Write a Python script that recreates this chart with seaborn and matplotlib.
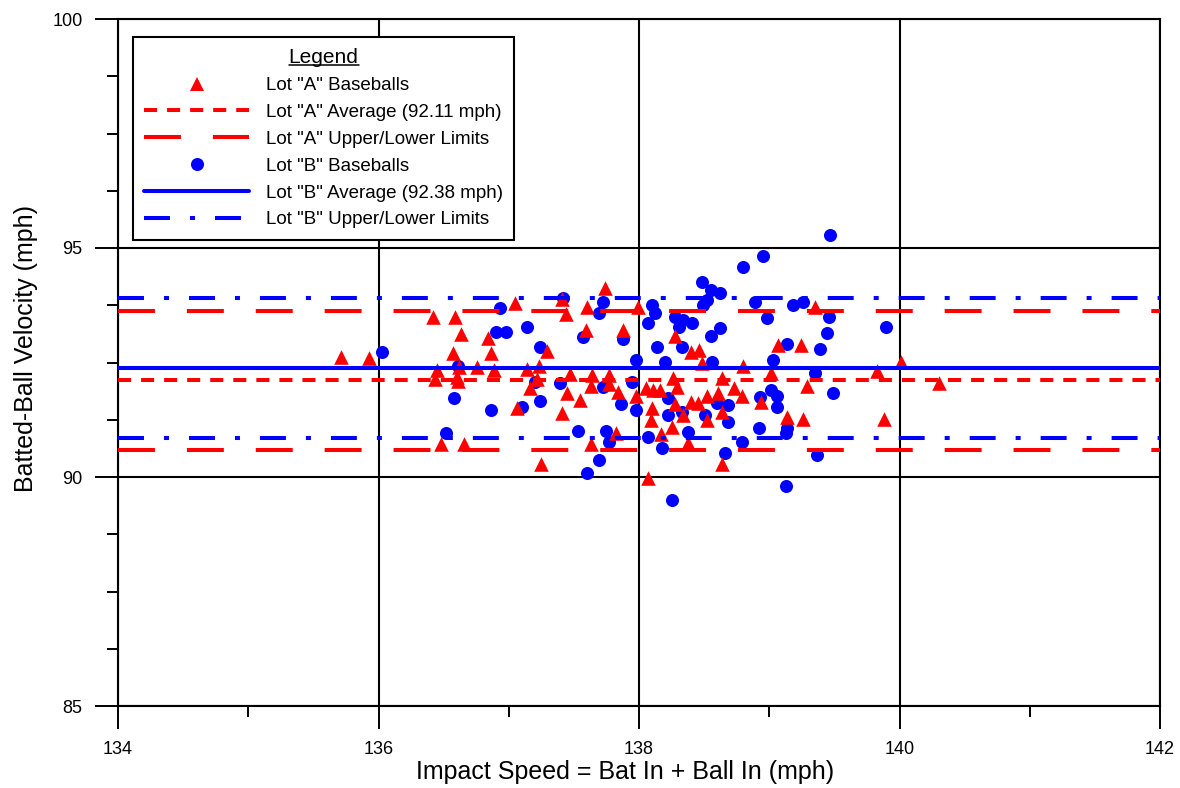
import matplotlib
matplotlib.use("Agg")
import matplotlib.pyplot as plt
from matplotlib.lines import Line2D
from matplotlib.ticker import MultipleLocator
import seaborn as sns
import pandas as pd

# Lot "A" baseballs: impact speed (mph) vs batted-ball velocity (mph)
lot_a_speed = [135.71, 135.93, 136.42, 136.59, 136.63, 136.84, 136.57, 136.86, 136.45, 136.62,
               136.76, 136.89, 136.43, 136.60, 136.61, 137.05, 137.14, 137.23, 137.16, 137.22,
               137.29, 137.06, 136.48, 136.66, 137.25, 137.74, 137.41, 137.60, 137.99, 137.44,
               137.59, 137.88, 138.28, 138.40, 138.46, 138.48, 138.80, 137.47, 137.64, 137.77,
               138.64, 138.26, 137.45, 137.63, 137.77, 137.84, 137.55, 137.98, 138.05, 138.11,
               138.16, 138.28, 138.40, 138.45, 138.52, 138.61, 138.73, 138.79, 137.41, 138.10,
               138.34, 138.09, 138.52, 138.64, 138.25, 137.82, 138.17, 137.63, 138.38, 138.64,
               138.07, 139.35, 139.07, 139.24, 139.01, 139.83, 140.01, 139.29, 140.30, 138.94,
               139.14, 139.26, 139.88, 138.29]
lot_a_velocity = [92.62, 92.60, 93.49, 93.49, 93.12, 93.03, 92.71, 92.71, 92.34, 92.40,
                  92.40, 92.34, 92.14, 92.18, 92.10, 93.80, 92.36, 92.42, 91.94, 92.14,
                  92.75, 91.51, 90.72, 90.72, 90.28, 94.13, 93.89, 93.71, 93.71, 93.56,
                  93.21, 93.21, 93.08, 92.73, 92.77, 92.49, 92.42, 92.25, 92.23, 92.23,
                  92.16, 92.16, 91.83, 91.99, 92.03, 91.86, 91.68, 91.77, 91.94, 91.90,
                  91.90, 91.59, 91.64, 91.62, 91.77, 91.83, 91.94, 91.77, 91.40, 91.51,
                  91.35, 91.24, 91.24, 91.42, 91.09, 90.96, 90.94, 90.72, 90.74, 90.28,
                  89.98, 93.71, 92.88, 92.88, 92.27, 92.31, 92.51, 91.99, 92.05, 91.64,
                  91.31, 91.27, 91.27, 91.97]

# Lot "B" baseballs
lot_b_speed = [136.03, 136.52, 136.61, 136.58, 136.86, 136.93, 136.90, 136.98, 137.14, 137.24,
               137.20, 137.24, 137.10, 137.42, 137.72, 137.69, 138.10, 138.12, 138.07, 137.57,
               137.88, 138.14, 137.98, 138.20, 137.39, 137.72, 137.95, 138.95, 138.80, 138.48,
               138.55, 138.62, 138.52, 138.49, 138.28, 138.34, 138.41, 138.31, 138.89, 138.98,
               138.62, 138.55, 138.33, 139.03, 139.01, 138.93, 139.47, 139.18, 139.26, 139.46,
               139.44, 139.90, 139.14, 139.39, 139.35, 139.49, 139.06, 139.06, 138.92, 139.14,
               139.13, 138.79, 139.37, 139.13, 138.56, 137.86, 137.98, 138.22, 138.33, 138.60,
               138.68, 138.68, 138.51, 137.53, 137.75, 137.77, 138.07, 138.38, 138.18, 137.69,
               137.60, 138.25, 138.66, 138.22]
lot_b_velocity = [92.73, 90.96, 92.42, 91.72, 91.46, 93.69, 93.17, 93.17, 93.28, 92.84,
                  92.07, 91.66, 91.53, 93.91, 93.82, 93.58, 93.76, 93.58, 93.36, 93.06,
                  93.01, 92.84, 92.55, 92.51, 92.05, 91.97, 92.07, 94.83, 94.59, 94.26,
                  94.08, 94.02, 93.86, 93.76, 93.49, 93.43, 93.36, 93.28, 93.82, 93.47,
                  93.25, 93.08, 92.84, 92.55, 91.90, 91.75, 95.28, 93.76, 93.82, 93.49,
                  93.14, 93.28, 92.90, 92.79, 92.27, 91.83, 91.77, 91.53, 91.07, 91.07,
                  90.96, 90.76, 90.48, 89.80, 92.51, 91.59, 91.46, 91.35, 91.42, 91.62,
                  91.57, 91.20, 91.35, 91.00, 91.00, 90.76, 90.87, 90.98, 90.63, 90.37,
                  90.09, 89.50, 90.52, 91.72]

# Lot averages and upper/lower limits (mph)
lot_a_average = 92.11
lot_a_limits = [93.62, 90.60]
lot_b_average = 92.38
lot_b_limits = [93.90, 90.86]

labels = ['Lot "A" Baseballs', 'Lot "A" Average (92.11 mph)', 'Lot "A" Upper/Lower Limits',
          'Lot "B" Baseballs', 'Lot "B" Average (92.38 mph)', 'Lot "B" Upper/Lower Limits']

sns.set_style("white")
plt.rcParams["font.family"] = ["Liberation Sans", "DejaVu Sans"]
plt.rcParams["lines.scale_dashes"] = False
for key in ("text.color", "axes.labelcolor", "xtick.color", "ytick.color",
            "xtick.labelcolor", "ytick.labelcolor"):
    plt.rcParams[key] = "black"

RED = "#ff0000"
BLUE = "#0000ff"

df_a = pd.DataFrame({"speed": lot_a_speed, "velocity": lot_a_velocity})
df_b = pd.DataFrame({"speed": lot_b_speed, "velocity": lot_b_velocity})

fig = plt.figure(figsize=(11.8, 7.88), dpi=100)
ax = fig.add_axes([118 / 1180, 82 / 788, 1042 / 1180, 687 / 788])

sns.scatterplot(data=df_b, x="speed", y="velocity", ax=ax, marker="o", s=88,
                color=BLUE, edgecolor=BLUE, linewidth=0, zorder=3)
sns.scatterplot(data=df_a, x="speed", y="velocity", ax=ax, marker="^", s=110,
                color=RED, edgecolor=RED, linewidth=0, zorder=4)

lw = 2.9
a_avg = ax.axhline(lot_a_average, color=RED, lw=lw, ls=(0, (9.4, 7.2)), zorder=5)
for v in lot_a_limits:
    a_lim = ax.axhline(v, color=RED, lw=lw, ls=(0, (26.6, 23.0)), zorder=5)
b_avg = ax.axhline(lot_b_average, color=BLUE, lw=lw, ls="-", zorder=6)
for v in lot_b_limits:
    b_lim = ax.axhline(v, color=BLUE, lw=lw, ls=(0, (18.7, 14.4, 3.6, 14.4)), zorder=6)

ax.set_xlim(134, 142)
ax.set_ylim(85, 100)
ax.xaxis.set_major_locator(MultipleLocator(2))
ax.xaxis.set_minor_locator(MultipleLocator(1))
ax.yaxis.set_major_locator(MultipleLocator(5))
ax.yaxis.set_minor_locator(MultipleLocator(1.25))

ax.grid(True, which="major", color="black", lw=1.5, zorder=1)
ax.set_axisbelow(True)
for sp in ax.spines.values():
    sp.set_color("black")
    sp.set_linewidth(1.5)

ax.tick_params(axis="both", which="major", direction="out", length=16.5, width=1.4,
               color="black", labelcolor="black", labelsize=13, pad=9)
ax.tick_params(axis="both", which="minor", direction="out", length=8, width=1.4, color="black")
ax.tick_params(top=False, right=False, which="both")
ax.tick_params(bottom=True, left=True, which="both")

ax.set_xlabel("Impact Speed = Bat In + Ball In (mph)", fontsize=18, color="black")
ax.set_ylabel("Batted-Ball Velocity (mph)", fontsize=18, color="black")
ax.xaxis.set_label_coords(0.487, -0.079)
ax.yaxis.set_label_coords(-0.077, 0.521)

# Legend built from the drawn artists
handles = [
    Line2D([], [], ls="none", marker="^", ms=10.5, color=RED, mec=RED, mew=0),
    a_avg, a_lim,
    Line2D([], [], ls="none", marker="o", ms=9.4, color=BLUE, mec=BLUE, mew=0),
    b_avg, b_lim,
]
leg = ax.legend(handles, labels, loc="upper left", bbox_to_anchor=(15 / 1042, 1 - 18 / 687),
                title="Legend", title_fontsize=15, fontsize=13.5, frameon=True, fancybox=False,
                edgecolor="black", framealpha=1, handlelength=5.6, handletextpad=0.9,
                labelspacing=0.52, borderpad=0.6, borderaxespad=0)
leg.get_frame().set_linewidth(1.5)
leg.set_zorder(10)
for t in leg.get_texts():
    t.set_color("black")
leg.get_title().set_color("black")

# Underline the legend title
fig.canvas.draw()
renderer = fig.canvas.get_renderer()
tb = leg.get_title().get_window_extent(renderer)
inv = fig.transFigure.inverted()
(x0, y0), (x1, _) = inv.transform([(tb.x0, tb.y0 + 2), (tb.x1, tb.y0 + 2)])
fig.add_artist(Line2D([x0, x1], [y0, y0], color="black", lw=1.1, transform=fig.transFigure,
                      zorder=20))

fig.savefig("out.png", dpi=100)
